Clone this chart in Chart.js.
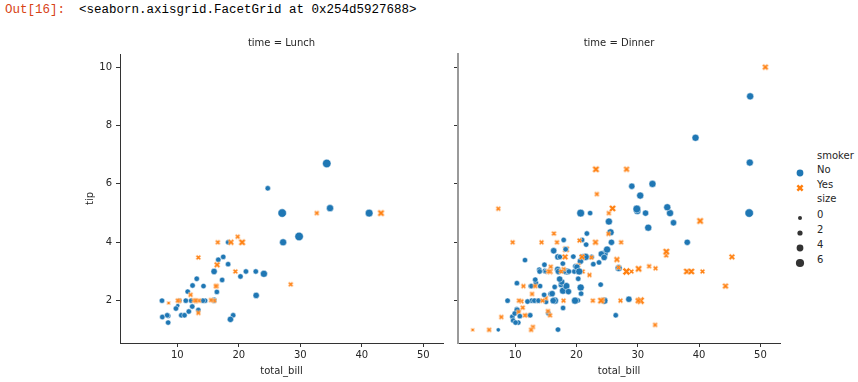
<!DOCTYPE html>
<html><head><meta charset="utf-8">
<script src="https://cdn.jsdelivr.net/npm/chart.js@4.4.0/dist/chart.umd.min.js"></script>
<style>
html,body{margin:0;padding:0;background:#fff;}
#wrap{position:relative;width:858px;height:382px;overflow:hidden;font-family:'DejaVu Sans',sans-serif;}
canvas{position:absolute;top:0;}
.hdr{position:absolute;top:3px;font-family:'Liberation Mono','DejaVu Sans Mono',monospace;font-size:12.5px;line-height:15px;white-space:pre;}
.lg{position:absolute;font-family:'DejaVu Sans',sans-serif;font-size:10px;line-height:12px;color:#262626;white-space:nowrap;}
.mk{position:absolute;}
</style></head>
<body><div id="wrap">
<div class="hdr" style="left:5px;color:#D84315">Out[16]:</div>
<div class="hdr" style="left:79px;color:#000">&lt;seaborn.axisgrid.FacetGrid at 0x254d5927688&gt;</div>
<canvas id="c1" width="450" height="382" style="left:0px"></canvas>
<canvas id="c2" width="340" height="382" style="left:450px"></canvas>
<div id="legend"></div>
</div>
<script>
const totalBill = [
16.99,10.34,21.01,23.68,24.59,25.29,8.77,26.88,15.04,14.78,
10.27,35.26,15.42,18.43,14.83,21.58,10.33,16.29,16.97,20.65,
17.92,20.29,15.77,39.42,19.82,17.81,13.37,12.69,21.7,19.65,
9.55,18.35,15.06,20.69,17.78,24.06,16.31,16.93,18.69,31.27,
16.04,17.46,13.94,9.68,30.4,18.29,22.23,32.4,28.55,18.04,
12.54,10.29,34.81,9.94,25.56,19.49,38.01,26.41,11.24,48.27,
20.29,13.81,11.02,18.29,17.59,20.08,16.45,3.07,20.23,15.01,
12.02,17.07,26.86,25.28,14.73,10.51,17.92,27.2,22.76,17.29,
19.44,16.66,10.07,32.68,15.98,34.83,13.03,18.28,24.71,21.16,
28.97,22.49,5.75,16.32,22.75,40.17,27.28,12.03,21.01,12.46,
11.35,15.38,44.3,22.42,20.92,15.36,20.49,25.21,18.24,14.31,
14.0,7.25,38.07,23.95,25.71,17.31,29.93,10.65,12.43,24.08,
11.69,13.42,14.26,15.95,12.48,29.8,8.52,14.52,11.38,22.82,
19.08,20.27,11.17,12.26,18.26,8.51,10.33,14.15,16.0,13.16,
17.47,34.3,41.19,27.05,16.43,8.35,18.64,11.87,9.78,7.51,
14.07,13.13,17.26,24.55,19.77,29.85,48.17,25.0,13.39,16.49,
21.5,12.66,16.21,13.81,17.51,24.52,20.76,31.71,10.59,10.63,
50.81,15.81,7.25,31.85,16.82,32.9,17.89,14.48,9.6,34.63,
34.65,23.33,45.35,23.17,40.55,20.69,20.9,30.46,18.15,23.1,
15.69,19.81,28.44,15.48,16.58,7.56,10.34,43.11,13.0,13.51,
18.71,12.74,13.0,16.4,20.53,16.47,26.59,38.73,24.27,12.76,
30.06,25.89,48.33,13.27,28.17,12.9,28.15,11.59,7.74,30.14,
12.16,13.42,8.58,15.98,13.42,16.27,10.09,20.45,13.28,22.12,
24.01,15.69,11.61,10.77,15.53,10.07,12.6,32.83,35.83,29.03,
27.18,22.67,17.82,18.78];
const tip = [
1.01,1.66,3.5,3.31,3.61,4.71,2.0,3.12,1.96,3.23,
1.71,5.0,1.57,3.0,3.02,3.92,1.67,3.71,3.5,3.35,
4.08,2.75,2.23,7.58,3.18,2.34,2.0,2.0,4.3,3.0,
1.45,2.5,3.0,2.45,3.27,3.6,2.0,3.07,2.31,5.0,
2.24,2.54,3.06,1.32,5.6,3.0,5.0,6.0,2.05,3.0,
2.5,2.6,5.2,1.56,4.34,3.51,3.0,1.5,1.76,6.73,
3.21,2.0,1.98,3.76,2.64,3.15,2.47,1.0,2.01,2.09,
1.97,3.0,3.14,5.0,2.2,1.25,3.08,4.0,3.0,2.71,
3.0,3.4,1.83,5.0,2.03,5.17,2.0,4.0,5.85,3.0,
3.0,3.5,1.0,4.3,3.25,4.73,4.0,1.5,3.0,1.5,
2.5,3.0,2.5,3.48,4.08,1.64,4.06,4.29,3.76,4.0,
3.0,1.0,4.0,2.55,4.0,3.5,5.07,1.5,1.8,2.92,
2.31,1.68,2.5,2.0,2.52,4.2,1.48,2.0,2.0,2.18,
1.5,2.83,1.5,2.0,3.25,1.25,2.0,2.0,2.0,2.75,
3.5,6.7,5.0,5.0,2.3,1.5,1.36,1.63,1.73,2.0,
2.5,2.0,2.74,2.0,2.0,5.14,5.0,3.75,2.61,2.0,
3.5,2.5,2.0,2.0,3.0,3.48,2.24,4.5,1.61,2.0,
10.0,3.16,5.15,3.18,4.0,3.11,2.0,2.0,4.0,3.55,
3.68,5.65,3.5,6.5,3.0,5.0,3.5,2.0,3.5,4.0,
1.5,4.19,2.56,2.02,4.0,1.44,2.0,5.0,2.0,2.0,
4.0,2.01,2.0,2.5,4.0,3.23,3.41,3.0,2.03,2.23,
2.0,5.16,9.0,2.5,6.5,1.1,3.0,1.5,1.44,3.09,
2.2,3.48,1.92,3.0,1.58,2.5,2.0,3.0,2.72,2.88,
2.0,3.0,3.39,1.47,3.0,1.25,1.0,1.17,4.67,5.92,
2.0,2.0,1.75,3.0];
const smoker = [
'No','No','No','No','No','No','No','No','No','No',
'No','No','No','No','No','No','No','No','No','No',
'No','No','No','No','No','No','No','No','No','No',
'No','No','No','No','No','No','No','No','No','No',
'No','No','No','No','No','No','No','No','No','No',
'No','No','No','No','No','No','Yes','No','Yes','No',
'Yes','Yes','Yes','Yes','No','No','No','Yes','No','Yes',
'No','No','Yes','Yes','No','No','Yes','No','No','No',
'Yes','No','No','Yes','No','No','No','No','No','No',
'Yes','No','Yes','Yes','No','Yes','Yes','Yes','Yes','No',
'Yes','Yes','Yes','Yes','No','Yes','Yes','Yes','No','Yes',
'No','No','No','No','No','No','No','No','No','No',
'No','No','No','No','No','No','No','No','No','No',
'No','No','No','No','No','No','No','No','Yes','No',
'No','No','No','No','No','No','No','No','No','No',
'No','No','No','No','No','No','No','No','No','No',
'No','No','No','No','Yes','No','No','No','Yes','Yes',
'Yes','Yes','Yes','Yes','Yes','Yes','Yes','Yes','Yes','Yes',
'Yes','Yes','Yes','Yes','Yes','No','Yes','Yes','Yes','Yes',
'Yes','Yes','Yes','Yes','Yes','No','Yes','Yes','Yes','Yes',
'Yes','Yes','Yes','Yes','Yes','Yes','Yes','Yes','Yes','Yes',
'Yes','Yes','No','Yes','Yes','Yes','Yes','Yes','Yes','Yes',
'Yes','Yes','Yes','No','Yes','Yes','Yes','No','No','Yes',
'Yes','Yes','No','No','Yes','No','Yes','Yes','No','No',
'Yes','Yes','No','No'];
const time = [
'D','D','D','D','D','D','D','D','D','D',
'D','D','D','D','D','D','D','D','D','D',
'D','D','D','D','D','D','D','D','D','D',
'D','D','D','D','D','D','D','D','D','D',
'D','D','D','D','D','D','D','D','D','D',
'D','D','D','D','D','D','D','D','D','D',
'D','D','D','D','D','D','D','D','D','D',
'D','D','D','D','D','D','D','L','L','L',
'L','L','L','L','L','L','L','L','L','L',
'D','D','D','D','D','D','D','D','D','D',
'D','D','D','D','D','D','D','D','D','D',
'D','D','D','D','D','D','D','L','L','L',
'L','L','L','L','L','L','L','L','L','L',
'L','L','L','L','L','L','L','L','L','L',
'L','L','L','L','L','L','L','L','L','L',
'D','D','D','D','D','D','D','D','D','D',
'D','D','D','D','D','D','D','D','D','D',
'D','D','D','D','D','D','D','D','D','D',
'D','D','D','D','D','D','D','D','D','D',
'D','L','L','L','L','L','L','L','L','L',
'L','L','L','L','L','L','D','D','D','D',
'D','D','D','D','D','D','D','D','D','D',
'L','L','L','L','L','L','L','D','D','D',
'D','D','D','D','D','D','D','D','D','D',
'D','D','D','D'];
const size = [
2,3,3,2,4,4,2,4,2,2,
2,4,2,4,2,2,3,3,3,3,
2,2,2,4,2,4,2,2,2,2,
2,4,2,4,2,3,3,3,3,3,
3,2,2,2,4,2,2,4,3,2,
2,2,4,2,4,2,4,2,2,4,
2,2,2,4,3,3,2,1,2,2,
2,3,2,2,2,2,2,4,2,2,
2,2,1,2,2,4,2,2,2,2,
2,2,2,2,2,4,2,2,2,2,
2,2,3,2,2,2,2,2,2,2,
2,1,3,2,3,2,4,2,2,4,
2,2,2,2,2,6,2,2,2,3,
2,2,2,2,2,2,2,2,2,2,
2,6,5,6,2,2,3,2,2,2,
2,2,3,4,4,5,6,4,2,4,
4,2,3,2,2,3,2,4,2,2,
3,2,2,2,2,2,2,2,2,2,
4,2,3,4,2,5,3,5,3,3,
2,2,2,2,2,2,2,4,2,2,
3,2,2,2,4,3,3,4,2,2,
3,4,4,2,3,2,5,2,2,4,
2,2,1,3,2,2,2,4,2,2,
4,3,2,2,2,2,2,2,3,3,
2,2,2,2];

const panelCodes = ['L','D'];
const panelTitles = ['time = Lunch','time = Dinner'];
const xTicks = [10,20,30,40,50];
const xTickLabels = ['10','20','30','40','50'];
const yTicks = [2,4,6,8,10];
const yTickLabels = ['2','4','6','8','10'];
const legendSmoker = ['No','Yes'];
const legendSizes = [0,2,4,6];

const BLUE = '#1f77b4', ORANGE = '#ff7f0e', TXT = '#262626', AX = '#333333';
const FONT = {family: "'DejaVu Sans', sans-serif", size: 10, weight: 'normal'};

// matplotlib-style limits: data range plus 5% margins
const xLo = Math.min(...totalBill), xHi = Math.max(...totalBill);
const yLo = Math.min(...tip), yHi = Math.max(...tip);
const xMin = xLo - 0.05 * (xHi - xLo), xMax = xHi + 0.05 * (xHi - xLo);
const yMin = yLo - 0.05 * (yHi - yLo), yMax = yHi + 0.05 * (yHi - yLo);

// size -> marker area (pt^2, 18..72) like seaborn; diameter = sqrt(area)
const sLo = Math.min(...size), sHi = Math.max(...size);
function diam(s) { return Math.sqrt(18 + (s - sLo) / (sHi - sLo) * 54); }

const xCache = {};
function xMarker(s, color) {
  const key = s + color;
  if (xCache[key]) return xCache[key];
  const d = diam(s);
  const w = Math.ceil(d + 3);
  const c = document.createElement('canvas');
  c.width = w; c.height = w;
  const g = c.getContext('2d');
  g.translate(w / 2, w / 2);
  const pts = [[-1,-2],[0,-1],[1,-2],[2,-1],[1,0],[2,1],[1,2],[0,1],[-1,2],[-2,1],[-1,0],[-2,-1]];
  g.beginPath();
  pts.forEach(([px, py], i) => { const X = px / 4 * d, Y = py / 4 * d; if (i) g.lineTo(X, Y); else g.moveTo(X, Y); });
  g.closePath();
  g.fillStyle = color; g.fill();
  g.lineWidth = 0.5; g.strokeStyle = '#ffffff'; g.stroke();
  xCache[key] = c;
  return c;
}

function panelData(code) {
  const out = [];
  for (let i = 0; i < totalBill.length; i++) {
    if (time[i] === code) out.push({x: totalBill[i], y: tip[i], s: size[i], k: smoker[i]});
  }
  return out;
}

function makeChart(id, p) {
  const first = p === 0;
  return new Chart(document.getElementById(id), {
    type: 'scatter',
    data: { datasets: [{
      data: panelData(panelCodes[p]),
      pointStyle: ctx => ctx.raw && ctx.raw.k === 'Yes' ? xMarker(ctx.raw.s, ORANGE) : 'circle',
      pointRadius: ctx => ctx.raw ? diam(ctx.raw.s) / 2 : 3,
      backgroundColor: ctx => ctx.raw && ctx.raw.k === 'Yes' ? ORANGE : BLUE,
      borderColor: '#ffffff',
      borderWidth: 0.5,
      pointHoverRadius: ctx => ctx.raw ? diam(ctx.raw.s) / 2 : 3
    }]},
    options: {
      responsive: false, animation: false, devicePixelRatio: 1,
      events: [],
      layout: { padding: { left: 0, right: first ? 7 : 10, top: 0, bottom: 0 } },
      plugins: {
        legend: { display: false },
        tooltip: { enabled: false },
        title: { display: true, text: panelTitles[p], font: FONT, color: TXT, fullSize: false,
                 padding: { top: 37, bottom: 5 } }
      },
      scales: {
        x: {
          type: 'linear', min: xMin, max: xMax, bounds: 'data',
          afterBuildTicks: s => { s.ticks = xTicks.map(v => ({value: v})); },
          afterFit: s => { s.height = 39; },
          ticks: { callback: (v, i) => xTickLabels[i], font: FONT, color: TXT, padding: 2, maxRotation: 0, autoSkip: false },
          grid: { drawOnChartArea: false, drawTicks: true, tickLength: 4, tickColor: AX, tickWidth: 1 },
          border: { display: true, color: AX, width: 1 },
          title: { display: true, text: 'total_bill', font: FONT, color: TXT, padding: { top: 0, bottom: 5 } }
        },
        y: {
          type: 'linear', min: yMin, max: yMax, bounds: 'data',
          afterBuildTicks: s => { s.ticks = yTicks.map(v => ({value: v})); },
          afterFit: s => { s.width = first ? 120 : 8; },
          ticks: { display: first, callback: (v, i) => yTickLabels[i], font: FONT, color: TXT, padding: 4, autoSkip: false },
          grid: { drawOnChartArea: false, drawTicks: true, tickLength: 4, tickColor: AX, tickWidth: 1 },
          border: { display: true, color: first ? AX : '#9a9a9a', width: first ? 1 : 2 },
          title: { display: first, text: 'tip', font: FONT, color: TXT, padding: { top: 84, bottom: 0 } }
        }
      }
    }
  });
}

makeChart('c1', 0);
makeChart('c2', 1);

// legend (seaborn style: hue section then size section)
const lg = document.getElementById('legend');
const MX = 800, TX = 817;
function addText(txt, cy) {
  const d = document.createElement('div');
  d.className = 'lg'; d.textContent = txt;
  d.style.left = TX + 'px'; d.style.top = (cy - 6) + 'px';
  lg.appendChild(d);
}
function addSvg(inner, cy) {
  const d = document.createElement('div');
  d.className = 'mk';
  d.style.left = (MX - 6) + 'px'; d.style.top = (cy - 6) + 'px';
  d.innerHTML = '<svg width="12" height="12" viewBox="-6 -6 12 12">' + inner + '</svg>';
  lg.appendChild(d);
}
const rowsY = [156, 170, 185, 199, 214.5, 229.5, 244.5, 259.5];
addText('smoker', rowsY[0]);
addText(legendSmoker[0], rowsY[1]);
addSvg('<circle r="3.4" fill="' + BLUE + '"/>', rowsY[1]);
addText(legendSmoker[1], rowsY[2]);
{
  const d = 7.0;
  const pts = [[-1,-2],[0,-1],[1,-2],[2,-1],[1,0],[2,1],[1,2],[0,1],[-1,2],[-2,1],[-1,0],[-2,-1]]
    .map(([a, b]) => (a / 4 * d).toFixed(2) + ',' + (b / 4 * d).toFixed(2)).join(' ');
  addSvg('<polygon points="' + pts + '" fill="' + ORANGE + '"/>', rowsY[2]);
}
addText('size', rowsY[3]);
const legR = [2.0, 2.6, 3.4, 4.1];
legendSizes.forEach((v, i) => {
  addText(String(v), rowsY[4 + i]);
  addSvg('<circle r="' + legR[i] + '" fill="#333333"/>', rowsY[4 + i]);
});
</script>
</body></html>
